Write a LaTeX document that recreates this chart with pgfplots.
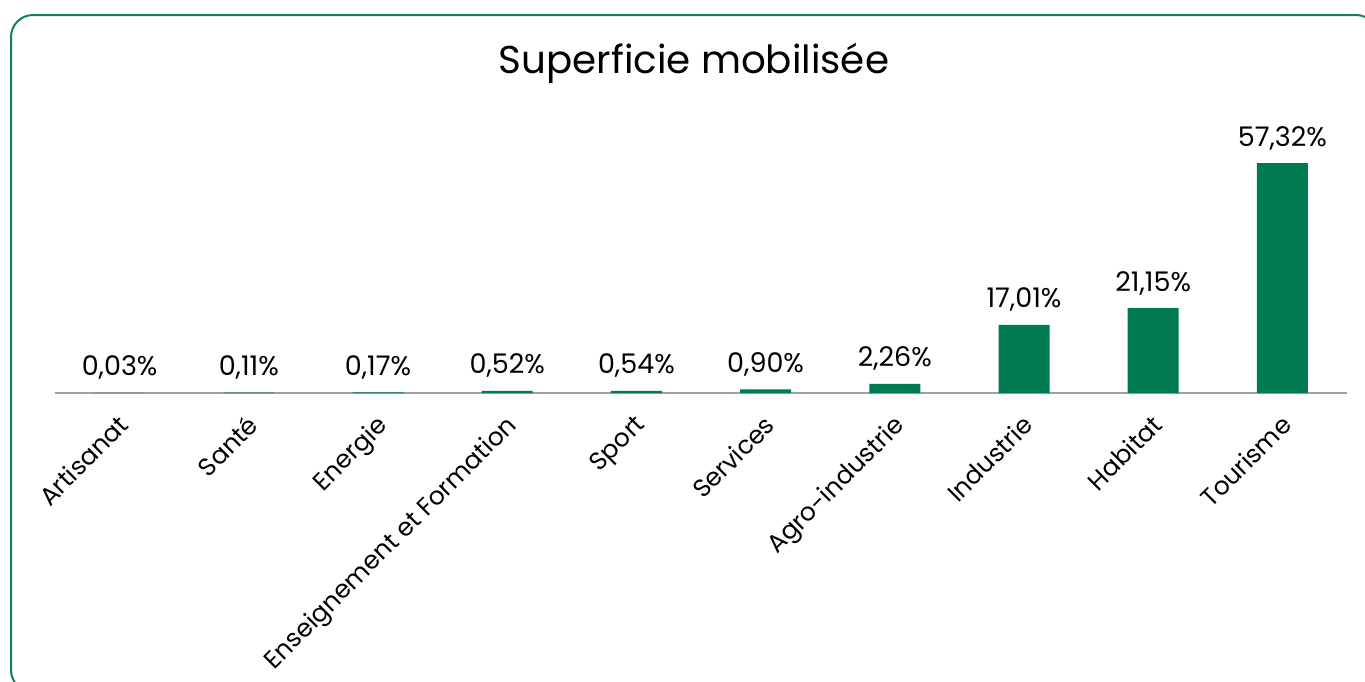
\documentclass[border=0pt]{standalone}
\usepackage{pgfplots}
\pgfplotsset{compat=1.18}
\usepackage{fontspec}
\setmainfont{Poppins}
\definecolor{barg}{RGB}{0,123,79}
\definecolor{frameg}{RGB}{20,128,85}
\definecolor{axg}{RGB}{160,160,160}
\begin{document}
\begin{tikzpicture}
\useasboundingbox (0,0) rectangle (682.5pt,-340.5pt);
\draw[frameg, line width=1pt, rounded corners=11pt] (5.5pt,-7.5pt) rectangle (689pt,-346pt);
\node[font=\fontsize{19.4}{23}\selectfont, anchor=base] at (347pt,-36.5pt) {Superficie mobilisée};
\begin{axis}[
  at={(27.5pt,-196.5pt)}, anchor=south west,
  scale only axis, width=646pt, height=126.4pt,
  xmin=-0.5, xmax=9.5, ymin=0, ymax=63,
  axis y line=none, axis x line*=bottom,
  x axis line style={axg, line width=1pt},
  xtick={0,...,9}, xtick style={draw=none},
  xticklabels={Artisanat,Santé,Energie,Enseignement et Formation,Sport,Services,Agro-industrie,Industrie,Habitat,Tourisme},
  xticklabel style={rotate=45, anchor=north east, font=\fontsize{12.5}{14}\selectfont, inner sep=1pt, xshift=-4pt, yshift=-2pt},
  ybar, bar width=25.5pt,
  point meta=explicit symbolic,
  nodes near coords,
  nodes near coords style={anchor=base, yshift=8.5pt, font=\fontsize{13.5}{15}\selectfont, text=black},
  clip=false,
]
\addplot[fill=barg, draw=none] coordinates {
(0,0.03) [0,03\%]
(1,0.11) [0,11\%]
(2,0.17) [0,17\%]
(3,0.52) [0,52\%]
(4,0.54) [0,54\%]
(5,0.90) [0,90\%]
(6,2.26) [2,26\%]
(7,17.01) [17,01\%]
(8,21.15) [21,15\%]
(9,57.32) [57,32\%]
};
\end{axis}
\end{tikzpicture}
\end{document}
